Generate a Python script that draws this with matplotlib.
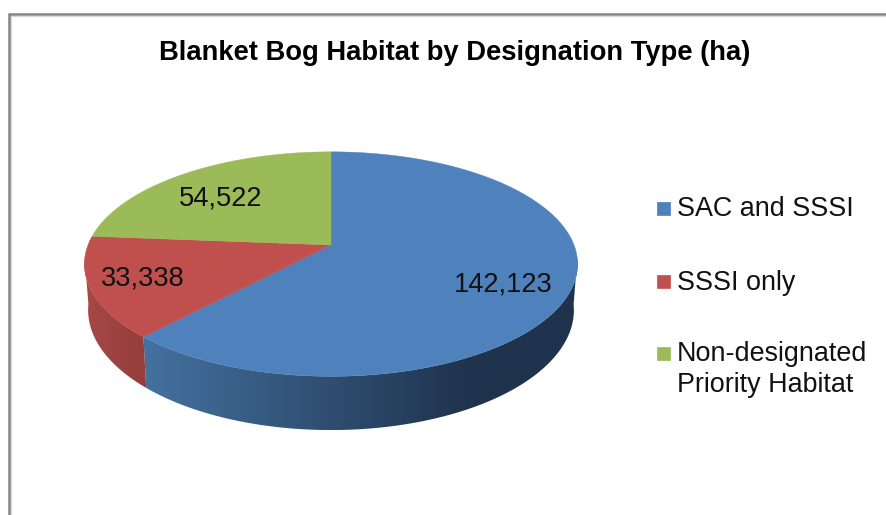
import numpy as np
import matplotlib
matplotlib.use('Agg')
import matplotlib.pyplot as plt
from matplotlib.colors import to_rgb
from matplotlib.patches import Polygon

categories = ['SAC and SSSI', 'SSSI only', 'Non-designated\nPriority Habitat']
values = [142123, 33338, 54522]
value_labels = ['142,123', '33,338', '54,522']
colors = ['#4f81bd', '#c0504d', '#9bbb59']

plt.rcParams['font.family'] = ['Liberation Sans', 'DejaVu Sans']

# pie geometry in pixels, the figure is one full size axes
cx, cy = 331, 245
scale_x, scale_y = 243, 109
persp = 0.17
depth = 44.6


def project(angle):
    # angle is clockwise from 12 o'clock, tilted circle with perspective
    u = np.sin(angle)
    v = np.cos(angle)
    d = 1 + persp * v
    return cx + scale_x * u / d, cy - scale_y * v / d


def project_low(angle):
    # same rim but on the underside of the pie
    x, y = project(angle)
    d = 1 + persp * np.cos(angle)
    return cx + (x - cx) * 0.985, y + depth / d


def side_colors(xs, start, end, x0, x1):
    t = np.clip((xs - x0) / (x1 - x0), 0, 1)[:, None]
    a = np.array(to_rgb(start))
    b = np.array(to_rgb(end))
    return a + (b - a) * t


fig = plt.figure(figsize=(8.87, 5.15), dpi=100)
ax = fig.add_axes([0, 0, 1, 1])
ax.set_xlim(0, 887)
ax.set_ylim(515, 0)
ax.axis('off')

# chart frame, runs off the right and bottom of the crop
ax.plot([9, 9, 887], [515, 14, 14], color='#848484', lw=1.8, solid_joinstyle='miter')
ax.plot([11, 11, 887], [515, 15.5, 15.5], color='#d6d6d6', lw=0.8, solid_joinstyle='miter')

fractions = np.array(values) / sum(values)
edges = np.concatenate([[0], np.cumsum(fractions)]) * 2 * np.pi

side_styles = [('#44719f', '#1f334d', 146, 470), ('#a54846', '#933e3b', 88, 148), None]

# side walls first, the top covers whatever is behind
for i in range(len(values)):
    if side_styles[i] is None:
        continue
    start, end, x0, x1 = side_styles[i]
    steps = np.linspace(edges[i], edges[i + 1], 400)
    steps = steps[np.cos(steps) < -0.12]
    xs, ys = project(steps)
    xl, yl = project_low(steps)
    outline = np.column_stack([np.r_[xs, xl[::-1]], np.r_[ys, yl[::-1]]])
    patch = Polygon(outline, closed=True, facecolor='none', edgecolor='none', transform=ax.transData)
    ax.add_patch(patch)
    grid = np.linspace(outline[:, 0].min(), outline[:, 0].max(), 512)
    img = side_colors(grid, start, end, x0, x1)[None, :, :]
    im = ax.imshow(img, aspect='auto', interpolation='bilinear',
                   extent=[grid[0], grid[-1], outline[:, 1].max(), outline[:, 1].min()])
    im.set_clip_path(patch)

ax.set_xlim(0, 887)
ax.set_ylim(515, 0)

# top faces
for i in range(len(values)):
    steps = np.linspace(edges[i], edges[i + 1], 300)
    xs, ys = project(steps)
    ax.fill(np.r_[cx, xs], np.r_[cy, ys], color=colors[i], lw=0.3)

# value labels
label_x = [503, 143, 221]
label_y = [284.5, 278.5, 198.5]
for i in range(len(values)):
    ax.text(label_x[i], label_y[i], value_labels[i], fontsize=19.6, color='#111111',
            ha='center', va='center')

ax.text(454.5, 52.5, 'Blanket Bog Habitat by Designation Type (ha)', fontsize=19.7,
        fontweight='bold', color='black', ha='center', va='center')

# legend
legend_y = [208, 281, 353]
text_y = [209.5, 282.5, 369.5]
for i in range(len(categories)):
    ax.fill([657, 670, 670, 657], [legend_y[i] - 6.5, legend_y[i] - 6.5, legend_y[i] + 6.5, legend_y[i] + 6.5],
            color=colors[i], lw=0.5)
    ax.text(677, text_y[i], categories[i], fontsize=19.4, color='#111111', ha='left', va='center',
            linespacing=1.25)

fig.savefig('out.png', dpi=100)
